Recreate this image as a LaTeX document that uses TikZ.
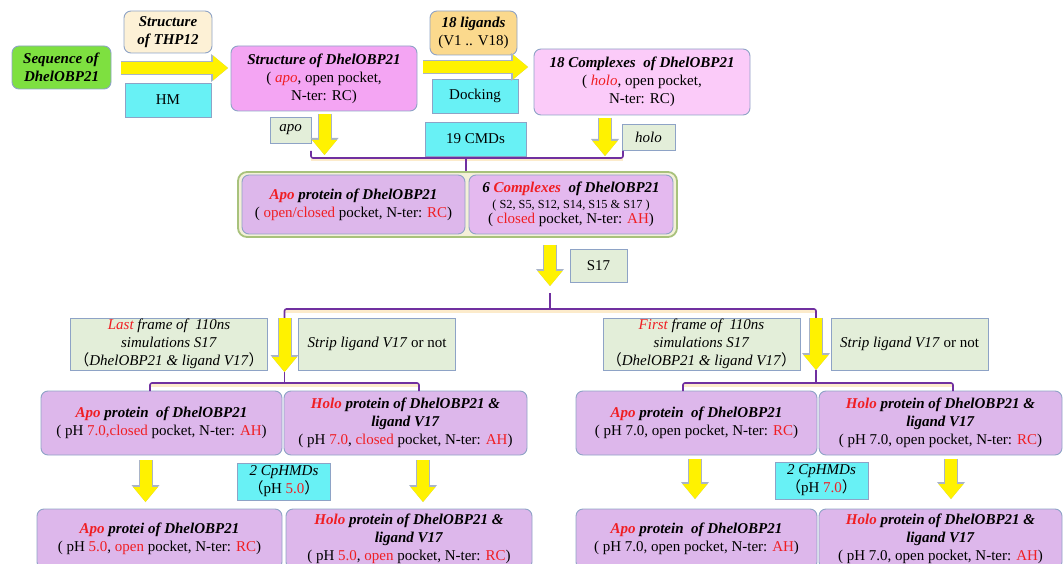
\documentclass[tikz,border=0pt]{standalone}
\usepackage{fontspec}
\setmainfont{Liberation Serif}
\newfontfamily\cjk{Noto Sans CJK SC}
\usetikzlibrary{arrows.meta}
\pgfdeclarelayer{bg}
\pgfsetlayers{bg,main}
\definecolor{boxline}{HTML}{8EA3C6}
\definecolor{seqgreen}{HTML}{7EE040}
\definecolor{thpbeige}{HTML}{FDF1D6}
\definecolor{ligorange}{HTML}{FBD98D}
\definecolor{hmcyan}{HTML}{68F1F5}
\definecolor{strpink}{HTML}{F4A5F3}
\definecolor{cplxpink}{HTML}{FBCBF9}
\definecolor{taggreen}{HTML}{E3EED9}
\definecolor{lavender}{HTML}{DDB7EB}
\definecolor{lavender2}{HTML}{E4B9EF}
\definecolor{contfill}{HTML}{F4F0D8}
\definecolor{contline}{HTML}{A8C27C}
\definecolor{brkpurple}{HTML}{7030A0}
\definecolor{brkband}{HTML}{FCEBCB}
\definecolor{arrline}{HTML}{A9B4C8}
\definecolor{txtred}{HTML}{F01E23}
\newcommand{\rd}[1]{\textcolor{txtred}{#1}}
\newcommand{\bi}[1]{\textbf{\textit{#1}}}
\tikzset{
    every node/.style={align=center, inner sep=1pt, font=\fontsize{15}{18}\selectfont}
}
\tikzset{box/.style={draw=boxline, line width=0.9pt, rounded corners=7pt}}
\tikzset{flatbox/.style={draw=boxline, line width=0.9pt}}
\tikzset{yarrow/.style={draw=yellow, line width=12pt, -{Triangle[length=15pt, width=25pt, line width=0pt]},
    preaction={draw=arrline, line width=14pt, -{Triangle[length=17pt, width=28pt, line width=0pt]}}}}
\tikzset{brk/.style={draw=brkpurple, line width=1.6pt, rounded corners=2pt}}

\begin{document}
\begin{tikzpicture}[x=1pt, y=1pt]
  \useasboundingbox (0,0) rectangle (1063,-564);
  \clip (0,0) rectangle (1063,-564);

  \node (seq) [box, fill=seqgreen, minimum width=99pt, minimum height=43pt] at (61.5,-67.5) {\bi{Sequence of}\\\bi{DhelOBP21}};
  \node (thp) [box, fill=thpbeige, minimum width=88pt, minimum height=42pt] at (168,-32) {\bi{Structure}\\\bi{of THP12}};
  \node (hm) [flatbox, fill=hmcyan, minimum width=86pt, minimum height=34pt] at (168,-100) {HM};
  \node (struct) [box, fill=strpink, minimum width=186pt, minimum height=65pt] at (324,-78.5) {\bi{Structure of DhelOBP21}\\( \rd{\textit{apo}}, open pocket,\\N-ter: RC)};
  \node (lig) [box, fill=ligorange, minimum width=87pt, minimum height=44pt] at (473.5,-33) {\bi{18 ligands}\\(V1 .. V18)};
  \node (dock) [flatbox, fill=hmcyan, minimum width=86pt, minimum height=34pt] at (475,-96) {Docking};
  \node (cplx) [box, fill=cplxpink, minimum width=216pt, minimum height=66pt] at (642,-82) {\bi{18 Complexes\ \ of DhelOBP21}\\( \rd{\textit{holo}}, open pocket,\\N-ter: RC)};

  \node (apotag) [flatbox, fill=taggreen, minimum width=41pt, minimum height=26pt] at (290.5,-130) {\textit{apo}};
  \node (cmds) [flatbox, fill=hmcyan, minimum width=101pt, minimum height=34pt] at (475.5,-139) {19 CMDs};
  \node (holotag) [flatbox, fill=taggreen, minimum width=53pt, minimum height=26pt] at (648.5,-137) {\textit{holo}};

  \node (cont) [box, draw=contline, line width=1.8pt, fill=contfill, rounded corners=9pt, minimum width=439pt, minimum height=65pt] at (457.5,-204.5) {};
  \node (apop) [box, fill=lavender, minimum width=223pt, minimum height=59pt] at (353.5,-204.5) {\bi{\rd{Apo} protein of DhelOBP21}\\( \rd{open/closed} pocket, N-ter: \rd{RC})};
  \node (cplx6) [box, fill=lavender2, minimum width=204pt, minimum height=59pt, font=\fontsize{15}{15.5}\selectfont] at (571,-204.5) {\bi{6 \rd{Complexes}\ \ of DhelOBP21}\\{\fontsize{12.3}{15.5}\selectfont ( S2, S5, S12, S14, S15 \& S17 )}\\( \rd{closed} pocket, N-ter: \rd{AH})};

  \node (s17) [flatbox, fill=taggreen, minimum width=57pt, minimum height=33pt] at (598.5,-265.5) {S17};

  \node (last) [flatbox, fill=taggreen, minimum width=197pt, minimum height=52pt] at (169,-344) {\textit{\rd{Last} frame of\ \ 110ns}\\\textit{simulations S17}\\{\cjk （}\textit{DhelOBP21 \& ligand V17}{\cjk ）}};
  \node (strip1) [flatbox, fill=taggreen, minimum width=157pt, minimum height=52pt] at (377,-344) {\textit{Strip ligand V17} or not};
  \node (first) [flatbox, fill=taggreen, minimum width=197pt, minimum height=52pt] at (701.5,-344) {\textit{\rd{First} frame of\ \ 110ns}\\\textit{simulations S17}\\{\cjk （}\textit{DhelOBP21 \& ligand V17}{\cjk ）}};
  \node (strip2) [flatbox, fill=taggreen, minimum width=157pt, minimum height=52pt] at (909.5,-344) {\textit{Strip ligand V17} or not};

  \node (apoA) [box, fill=lavender, minimum width=241pt, minimum height=64pt] at (161.5,-423) {\bi{\rd{Apo} protein\ \ of DhelOBP21}\\( pH \rd{7.0,closed} pocket, N-ter: \rd{AH})};
  \node (holoA) [box, fill=lavender, minimum width=243pt, minimum height=64pt] at (405.5,-423) {\bi{\rd{Holo} protein of DhelOBP21 \&}\\\bi{ligand V17}\\( pH \rd{7.0}, \rd{closed} pocket, N-ter: \rd{AH})};
  \node (apoC) [box, fill=lavender, minimum width=241pt, minimum height=64pt] at (696.5,-423) {\bi{\rd{Apo} protein\ \ of DhelOBP21}\\( pH 7.0, open pocket, N-ter: \rd{RC})};
  \node (holoC) [box, fill=lavender, minimum width=243pt, minimum height=64pt] at (940.5,-423) {\bi{\rd{Holo} protein of DhelOBP21 \&}\\\bi{ligand V17}\\( pH 7.0, open pocket, N-ter: \rd{RC})};

  \node (phL) [flatbox, fill=hmcyan, minimum width=93pt, minimum height=37pt] at (284,-481.5) {\textit{2 CpHMDs}\\{\cjk （}pH \rd{5.0}{\cjk ）}};
  \node (phR) [flatbox, fill=hmcyan, minimum width=93pt, minimum height=37pt] at (821.5,-480.5) {\textit{2 CpHMDs}\\{\cjk （}pH \rd{7.0}{\cjk ）}};

  \node (apoB) [box, fill=lavender, minimum width=245pt, minimum height=60pt] at (159.5,-539) {\bi{\rd{Apo} protei of DhelOBP21}\\( pH \rd{5.0}, \rd{open} pocket, N-ter: \rd{RC})};
  \node (holoB) [box, fill=lavender, minimum width=246pt, minimum height=60pt] at (409,-539) {\bi{\rd{Holo} protein of DhelOBP21 \&}\\\bi{ligand V17}\\( pH \rd{5.0}, \rd{open} pocket, N-ter: \rd{RC})};
  \node (apoD) [box, fill=lavender, minimum width=241pt, minimum height=60pt] at (696.5,-539) {\bi{\rd{Apo} protein\ \ of DhelOBP21}\\( pH 7.0, open pocket, N-ter: \rd{AH})};
  \node (holoD) [box, fill=lavender, minimum width=243pt, minimum height=60pt] at (940.5,-539) {\bi{\rd{Holo} protein of DhelOBP21 \&}\\\bi{ligand V17}\\( pH 7.0, open pocket, N-ter: \rd{AH})};

  \coordinate (a1s) at (121,-68);
  \coordinate (a1e) at (228,-68);
  \coordinate (a2s) at (423,-67);
  \coordinate (a2e) at (528,-67);
  \coordinate (a3s) at (324.5,-114);
  \coordinate (a3e) at (324.5,-155);
  \coordinate (a4s) at (605,-118);
  \coordinate (a4e) at (605,-156);
  \coordinate (a5s) at (550,-245);
  \coordinate (a5e) at (550,-286);
  \coordinate (a6s) at (284.5,-318);
  \coordinate (a6e) at (284.5,-372);
  \coordinate (a7s) at (816,-318);
  \coordinate (a7e) at (816,-370);
  \coordinate (a8s) at (145.5,-460);
  \coordinate (a8e) at (145.5,-502);
  \coordinate (a9s) at (423,-460);
  \coordinate (a9e) at (423,-502);
  \coordinate (a10s) at (695,-459);
  \coordinate (a10e) at (695,-499);
  \coordinate (a11s) at (951,-459);
  \coordinate (a11e) at (951,-499);

  \coordinate (b1l) at (311,-151);
  \coordinate (b1c) at (466,-158);
  \coordinate (b1r) at (623,-151);
  \coordinate (b2c) at (550,-309);
  \coordinate (b2t) at (550,-293);
  \coordinate (b3l) at (150,-391);
  \coordinate (b3c) at (284.5,-383);
  \coordinate (b3r) at (419,-391);
  \coordinate (b4l) at (683,-391);
  \coordinate (b4c) at (816,-383);
  \coordinate (b4r) at (953,-391);

  \begin{pgfonlayer}{bg}
    \fill[brkband] (b1l |- b1c) rectangle ([yshift=-3.5pt]b1r |- b1c);
    \fill[brkband] (a6s |- b2c) rectangle ([yshift=-4pt]a7s |- b2c);
    \fill[brkband] (b3l |- b3c) rectangle ([yshift=-4pt]b3r |- b3c);
    \fill[brkband] (b4l |- b4c) rectangle ([yshift=-4pt]b4r |- b4c);
  \end{pgfonlayer}

  \draw[brk] (b1l) |- (b1c) -| (b1r);
  \draw[brk] (b1c) -- (b1c |- cont.north);
  \draw[brk] (a6s) |- (b2c) -| (a7s);
  \draw[brk] (b2t) -- (b2c);
  \draw[brk] (a6e) -- (b3c);
  \draw[brk] (b3l) |- (b3c) -| (b3r);
  \draw[brk] (a7e) -- (b4c);
  \draw[brk] (b4l) |- (b4c) -| (b4r);

  \draw (a1s) edge[yarrow] (a1e);
  \draw (a2s) edge[yarrow] (a2e);
  \draw (a3s) edge[yarrow] (a3e);
  \draw (a4s) edge[yarrow] (a4e);
  \draw (a5s) edge[yarrow] (a5e);
  \draw (a6s) edge[yarrow] (a6e);
  \draw (a7s) edge[yarrow] (a7e);
  \draw (a8s) edge[yarrow] (a8e);
  \draw (a9s) edge[yarrow] (a9e);
  \draw (a10s) edge[yarrow] (a10e);
  \draw (a11s) edge[yarrow] (a11e);
\end{tikzpicture}
\end{document}
